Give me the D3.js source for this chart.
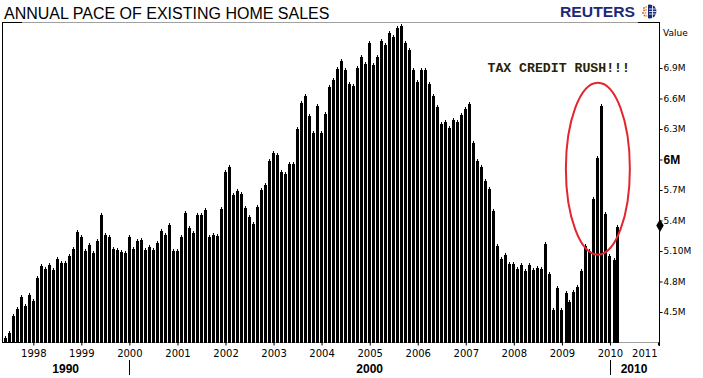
<!DOCTYPE html>
<html><head><meta charset="utf-8">
<script src="https://cdn.jsdelivr.net/npm/d3@7"></script>
<style>body{margin:0;background:#fff}svg{display:block}</style>
</head><body><svg id="c" width="703" height="378"></svg>
<script>
const title = "ANNUAL PACE OF EXISTING HOME SALES";
const brand = "REUTERS";
const firstMonth = [1997, 5]; // June 1997, monthly data through March 2010
const sales = [
  4.25,4.30,4.47,4.54,4.66,4.57,4.68,4.62,4.84,4.96,4.93,4.97,4.92,5.03,4.99,4.99,
  5.06,5.13,5.30,5.25,5.11,5.17,5.09,5.21,5.46,5.27,5.25,5.13,5.12,5.10,5.09,5.25,
  5.13,5.21,5.22,5.12,5.15,5.12,5.19,5.31,5.27,5.37,5.11,5.11,5.25,5.48,5.34,5.29,
  5.46,5.46,5.51,5.25,5.27,5.26,5.52,5.89,5.94,5.66,5.70,5.67,5.53,5.44,5.38,5.54,
  5.71,5.76,6.00,6.07,6.05,5.89,5.87,5.97,5.97,6.31,6.57,6.63,6.44,6.27,6.54,6.27,
  6.46,6.72,6.79,6.90,6.98,6.89,6.75,6.73,6.91,7.02,6.95,7.16,6.94,7.02,7.18,7.14,
  7.25,7.21,7.30,7.32,7.16,7.09,6.89,6.77,6.89,6.89,6.75,6.63,6.53,6.36,6.38,6.32,
  6.40,6.38,6.45,6.51,6.56,6.17,6.00,5.94,5.80,5.72,5.50,5.16,5.03,5.07,4.98,4.98,
  4.93,4.97,4.91,4.97,4.92,4.94,4.93,5.18,4.88,4.53,4.75,4.53,4.70,4.61,4.71,4.76,
  4.91,5.16,5.11,5.62,6.02,6.54,5.47,5.06,5.02,5.35
];
const yTicks = [4.5, 4.8, 5.1, 5.4, 5.7, 6, 6.3, 6.6, 6.9];
const yTickLabels = ["4.5M","4.8M","5.10M","5.4M","5.7M","6M","6.3M","6.6M","6.9M"];
const yAxisTitle = "Value";
const xYears = [1998,1999,2000,2001,2002,2003,2004,2005,2006,2007,2008,2009,2010,2011];
const decades = ["1990","2000","2010"];
const annotation = "TAX CREDIT RUSH!!!";
const lastValue = 5.35;

const svg = d3.select("#c");
const L = 2, R = 659, T = 22, B = 342;
const x = d3.scaleUtc()
  .domain([new Date(Date.UTC(1998,0,1)), new Date(Date.UTC(2011,0,1))])
  .range([33.3, 658]);
const y = d3.scaleLinear().domain([4.5, 6.9]).range([312, 68]);
const months = sales.map((v,i)=>({d:new Date(Date.UTC(firstMonth[0], firstMonth[1]+i, 1)), v}));

// title
svg.append("text").attr("x",4).attr("y",19).text(title)
  .attr("font-family","Liberation Sans, Arial, sans-serif").attr("font-size",16).attr("fill","#000");
// brand
svg.append("text").attr("x",560).attr("y",17).text(brand)
  .attr("font-family","Liberation Sans, Arial, sans-serif").attr("font-weight","bold")
  .attr("font-size",14.5).attr("textLength",75).attr("lengthAdjust","spacingAndGlyphs").attr("fill","#1b2a78");
// globe logo
const g0 = svg.append("g");
g0.append("clipPath").attr("id","rh").append("rect").attr("x",648).attr("y",3).attr("width",12).attr("height",18);
g0.append("circle").attr("cx",649.5).attr("cy",11.5).attr("r",7).attr("fill","#1b2a78").attr("clip-path","url(#rh)");
[9,11.5,14].forEach(yy=>g0.append("line").attr("x1",649).attr("x2",657).attr("y1",yy).attr("y2",yy).attr("stroke","#fff").attr("stroke-width",0.8));
g0.append("line").attr("x1",652.5).attr("x2",652.5).attr("y1",5).attr("y2",18).attr("stroke","#fff").attr("stroke-width",0.8);
[[644,8],[646,7],[644,10.5],[646,10],[643,13],[645.5,13],[644.5,15.5],[646.5,16]].forEach(([cx,cy],i)=>
  g0.append("rect").attr("x",cx-0.8).attr("y",cy-0.8).attr("width",1.6).attr("height",1.6).attr("fill", i%2?"#f0a020":"#e05020"));

// frame lines
svg.append("line").attr("x1",L).attr("x2",638).attr("y1",T+0.5).attr("y2",T+0.5).attr("stroke","#a0a0a0");
svg.append("line").attr("x1",L).attr("x2",R).attr("y1",B+0.5).attr("y2",B+0.5).attr("stroke","#a0a0a0");
svg.append("line").attr("x1",L).attr("x2",22).attr("y1",T+0.5).attr("y2",T+0.5).attr("stroke","#000");
svg.append("line").attr("x1",L).attr("x2",22).attr("y1",B+0.5).attr("y2",B+0.5).attr("stroke","#000");
svg.append("line").attr("x1",638).attr("x2",R).attr("y1",T+0.5).attr("y2",T+0.5).attr("stroke","#000");
svg.append("line").attr("x1",L+0.5).attr("x2",L+0.5).attr("y1",T).attr("y2",B+1).attr("stroke","#000");

// bars
const bars = svg.append("g");
months.forEach(m=>{
  const cx = x(m.d);
  const bx = Math.round(cx - 1.5);
  const ty = Math.round(y(m.v));
  bars.append("rect").attr("x",bx).attr("y",ty+1).attr("width",3).attr("height",B+1-(ty+1)).attr("fill","#000");
  bars.append("rect").attr("x",bx+1).attr("y",ty-1).attr("width",1).attr("height",2).attr("fill","#000");
});

// right axis
svg.append("line").attr("x1",R+0.5).attr("x2",R+0.5).attr("y1",T).attr("y2",B+4).attr("stroke","#000");
const ya = svg.append("g").attr("transform",`translate(${R+0.5},0)`)
  .call(d3.axisRight(y).tickValues(yTicks).tickFormat((d,i)=>yTickLabels[i]).tickSize(3).tickPadding(1));
ya.select(".domain").remove();
ya.selectAll(".tick line").attr("stroke","#000");
ya.selectAll(".tick text").attr("font-family","DejaVu Sans, Verdana, sans-serif").attr("font-size",9).attr("fill","#000")
  .filter(d=>d===6).attr("font-family","Liberation Sans, Arial, sans-serif").attr("font-weight","bold").attr("font-size",12);
svg.append("text").attr("x",663).attr("y",36).text(yAxisTitle)
  .attr("font-family","DejaVu Sans, Verdana, sans-serif").attr("font-size",9).attr("fill","#000");
// last value marker
svg.append("path").attr("d",d3.symbol(d3.symbolDiamond, 48)())
  .attr("transform",`translate(${R+1},${y(lastValue)})`).attr("fill","#000");

// bottom axis
const xa = svg.append("g").attr("transform",`translate(0,${B+0.5})`)
  .call(d3.axisBottom(x).tickValues(xYears.map(yr=>new Date(Date.UTC(yr,0,1)))).tickFormat(d=>d.getUTCFullYear()).tickSize(3).tickPadding(4));
xa.select(".domain").remove();
xa.selectAll(".tick line").attr("stroke","#000");
xa.selectAll(".tick text").attr("font-family","DejaVu Sans, Verdana, sans-serif").attr("font-size",10).attr("fill","#000");
// last year label is pulled inside the chart edge
xa.selectAll(".tick text").filter(d=>d.getUTCFullYear()===xYears[xYears.length-1]).attr("text-anchor","end").attr("dx",-1);

// decade row
const bounds = [L, x(new Date(Date.UTC(2000,0,1))), x(new Date(Date.UTC(2010,0,1))), 658];
decades.forEach((dec,i)=>{
  svg.append("text").attr("x",(bounds[i]+bounds[i+1])/2).attr("y",372.5).attr("text-anchor","middle")
    .text(dec).attr("font-family","Liberation Sans, Arial, sans-serif").attr("font-weight","bold").attr("font-size",12).attr("fill","#000");
});
[bounds[1], bounds[2]].forEach(bx=>svg.append("line").attr("x1",Math.round(bx)+0.5).attr("x2",Math.round(bx)+0.5)
  .attr("y1",360).attr("y2",375).attr("stroke","#000"));

// annotation
svg.append("text").attr("x",x(new Date(Date.UTC(2007,5,15)))).attr("y",y(6.86)).text(annotation)
  .attr("font-family","Liberation Mono, Courier New, monospace").attr("font-weight","bold").attr("font-size",13.2).attr("fill","#2a2208");
svg.append("ellipse").attr("cx",x(new Date(Date.UTC(2009,9,1)))).attr("cy",y(5.91)).attr("rx",32).attr("ry",86)
  .attr("fill","none").attr("stroke","#e3262d").attr("stroke-width",2);
</script></body></html>
